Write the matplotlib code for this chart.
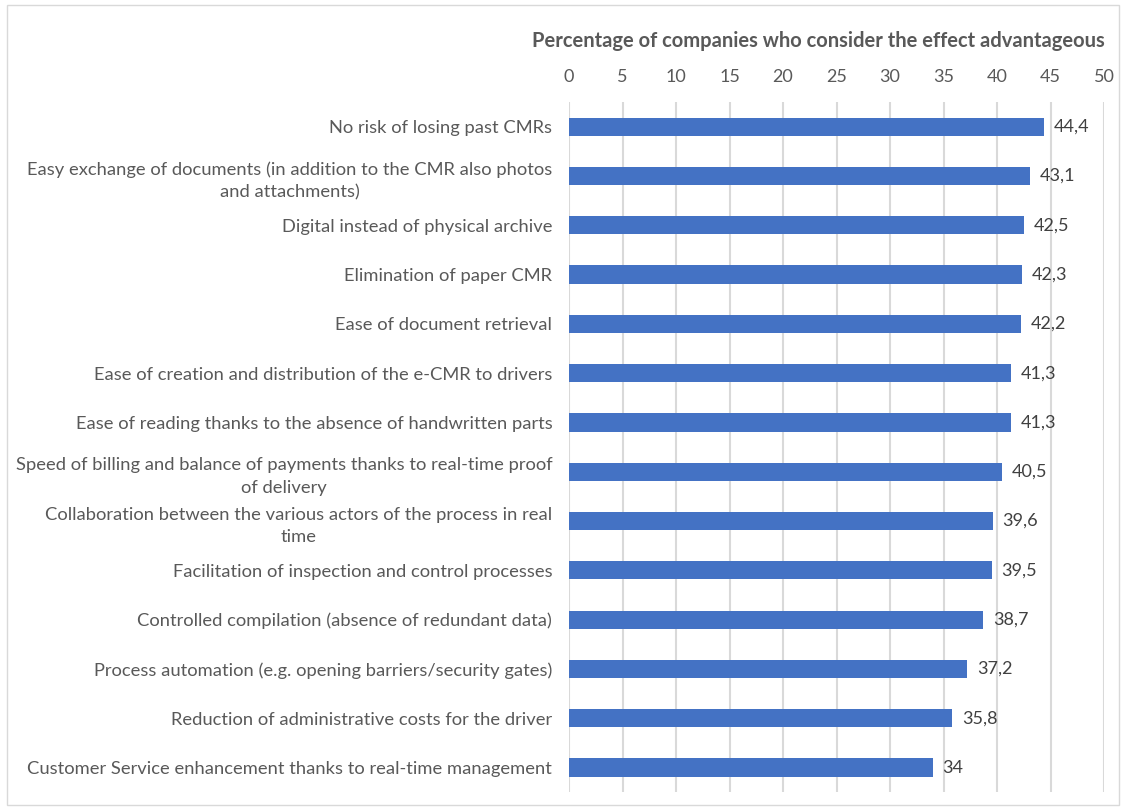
import matplotlib.pyplot as plt
from matplotlib.patches import Rectangle

labels = [
    "No risk of losing past CMRs",
    "Easy exchange of documents (in addition to the CMR also photos\nand attachments)",
    "Digital instead of physical archive",
    "Elimination of paper CMR",
    "Ease of document retrieval",
    "Ease of creation and distribution of the e-CMR to drivers",
    "Ease of reading thanks to the absence of handwritten parts",
    "Speed of billing and balance of payments thanks to real-time proof\nof delivery",
    "Collaboration between the various actors of the process in real\ntime",
    "Facilitation of inspection and control processes",
    "Controlled compilation (absence of redundant data)",
    "Process automation (e.g. opening barriers/security gates)",
    "Reduction of administrative costs for the driver",
    "Customer Service enhancement thanks to real-time management",
]
values = [44.4, 43.1, 42.5, 42.3, 42.2, 41.3, 41.3, 40.5, 39.6, 39.5, 38.7, 37.2, 35.8, 34]
xticks = [0, 5, 10, 15, 20, 25, 30, 35, 40, 45, 50]

plt.rcParams['font.family'] = ['Lato', 'DejaVu Sans']

fig = plt.figure(figsize=(11.29, 8.10), dpi=100)
ax = fig.add_axes([0.504, 0.022, 0.474, 0.852])

pos = list(range(len(values)))
ax.barh(pos, values, height=0.37, color='#4472C4', zorder=3)
ax.set_ylim(len(values) - 0.5, -0.5)
ax.set_xlim(0, 50)
ax.set_xticks(xticks)
ax.xaxis.tick_top()
ax.tick_params(axis='x', length=0, pad=12, labelsize=13, labelcolor='#595959')
ax.tick_params(axis='y', length=0, pad=12)
ax.set_yticks(pos)
ax.set_yticklabels(labels, fontsize=13.2, color='#595959', multialignment='center',
                   linespacing=1.5)
ax.grid(axis='x', color='#d9d9d9', linewidth=1.5, zorder=0)
for s in ax.spines.values():
    s.set_visible(False)

# etichette dei valori a fine barra
for p, v in zip(pos, values):
    txt = f"{v:g}".replace('.', ',')
    ax.text(v + 0.9, p, txt, va='center', ha='left', fontsize=13, color='#404040')

fig.text(818 / 1129, 1 - 41 / 810, "Percentage of companies who consider the effect advantageous",
         ha='center', va='center', fontsize=14.5, fontweight='bold', color='#595959')

# cornice esterna
fig.patches.append(Rectangle((0.006, 0.006), 0.985, 0.988, transform=fig.transFigure,
                             fill=False, edgecolor='#d9d9d9', linewidth=1))

fig.savefig('out.png', dpi=100)
